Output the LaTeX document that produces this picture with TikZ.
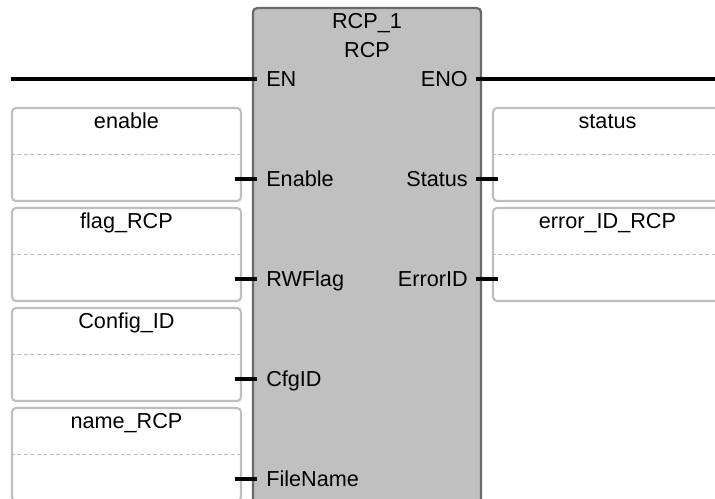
\documentclass[tikz,border=0pt]{standalone}
\usepackage{fontspec}
\setmainfont{Liberation Sans}
\usetikzlibrary{calc}
\definecolor{fbfill}{HTML}{C0C0C0}
\definecolor{fbline}{HTML}{6A6A6A}
\definecolor{boxline}{HTML}{BEBEBE}
\definecolor{sepline}{HTML}{BDBDBD}
\tikzset{
  fblock/.style={rectangle,rounded corners=1mm,draw=fbline,fill=fbfill,line width=1.6pt,minimum width=5.7cm,minimum height=13cm,anchor=north,inner sep=0pt},
  varbox/.style={rectangle,rounded corners=1mm,draw=boxline,fill=white,line width=1.5pt,minimum width=5.725cm,minimum height=2.325cm,inner sep=0pt},
  sep/.style={draw=sepline,line width=1.4pt,dash pattern=on 2.8pt off 1.8pt},
  wire/.style={draw=black,line width=2.2pt},
  pinlabel/.style={inner sep=0pt,text=black},
  varname/.style={inner sep=0pt,text=black,anchor=base},
}
\begin{document}
\begin{tikzpicture}[font=\fontsize{15.4}{18}\selectfont]
  \useasboundingbox (0,0) rectangle (17.875,12.475);
  % function block
  \node[fblock] (rcp) at (9.175,12.3) {};
  \node[varname] (inst) at (9.175,11.75) {RCP\_1};
  \node[varname] (type) at (9.175,11.025) {RCP};
  % variable boxes, inputs
  \node[varbox] (enable) at (3.1625,8.6125) {};
  \node[varbox] (flag) at (3.1625,6.1125) {};
  \node[varbox] (cfg) at (3.1625,3.6125) {};
  \node[varbox] (name) at (3.1625,1.1125) {};
  % variable boxes, outputs
  \node[varbox] (status) at (15.1875,8.6125) {};
  \node[varbox] (errid) at (15.1875,6.1125) {};
  \foreach \b in {enable,flag,cfg,name,status,errid}
    \draw[sep] (\b.west) -- (\b.east);
  \node[varname] (tEnable) at (3.1625,9.25) {enable};
  \node[varname] (tFlag) at (3.1625,6.75) {flag\_RCP};
  \node[varname] (tCfg) at (3.1625,4.25) {Config\_ID};
  \node[varname] (tName) at (3.1625,1.75) {name\_RCP};
  \node[varname] (tStatus) at (15.1875,9.25) {status};
  \node[varname] (tErrid) at (15.1875,6.75) {error\_ID\_RCP};
  % power flow and pins
  \coordinate (railL) at (0.275,10.5);
  \coordinate (railR) at (18.2,10.5);
  \coordinate (pEnable) at (5.875,8.0);
  \coordinate (pFlag) at (5.875,5.5);
  \coordinate (pCfg) at (5.875,3.0);
  \coordinate (pName) at (5.875,0.5);
  \coordinate (pStatus) at (12.45,8.0);
  \coordinate (pErrid) at (12.45,5.5);
  \draw[wire] (railL) -- ([xshift=1.25mm]railL -| rcp.west);
  \draw[wire] ([xshift=-1.5mm]railR -| rcp.east) -- (railR);
  \draw[wire] (pEnable) -- ([xshift=1.25mm]pEnable -| rcp.west);
  \draw[wire] (pFlag) -- ([xshift=1.25mm]pFlag -| rcp.west);
  \draw[wire] (pCfg) -- ([xshift=1.25mm]pCfg -| rcp.west);
  \draw[wire] (pName) -- ([xshift=1.25mm]pName -| rcp.west);
  \draw[wire] ([xshift=-1.5mm]pStatus -| rcp.east) -- (pStatus);
  \draw[wire] ([xshift=-1.5mm]pErrid -| rcp.east) -- (pErrid);
  % pin names
  \node[pinlabel,anchor=base west] (lEN) at (6.65,10.3) {EN};
  \node[pinlabel,anchor=base west] (lEnable) at (6.65,7.8) {Enable};
  \node[pinlabel,anchor=base west] (lFlag) at (6.65,5.3) {RWFlag};
  \node[pinlabel,anchor=base west] (lCfg) at (6.65,2.8) {CfgID};
  \node[pinlabel,anchor=base west] (lName) at (6.65,0.3) {FileName};
  \node[pinlabel,anchor=base east] (lENO) at (11.7,10.3) {ENO};
  \node[pinlabel,anchor=base east] (lStatus) at (11.7,7.8) {Status};
  \node[pinlabel,anchor=base east] (lErrid) at (11.7,5.3) {ErrorID};
\end{tikzpicture}
\end{document}
